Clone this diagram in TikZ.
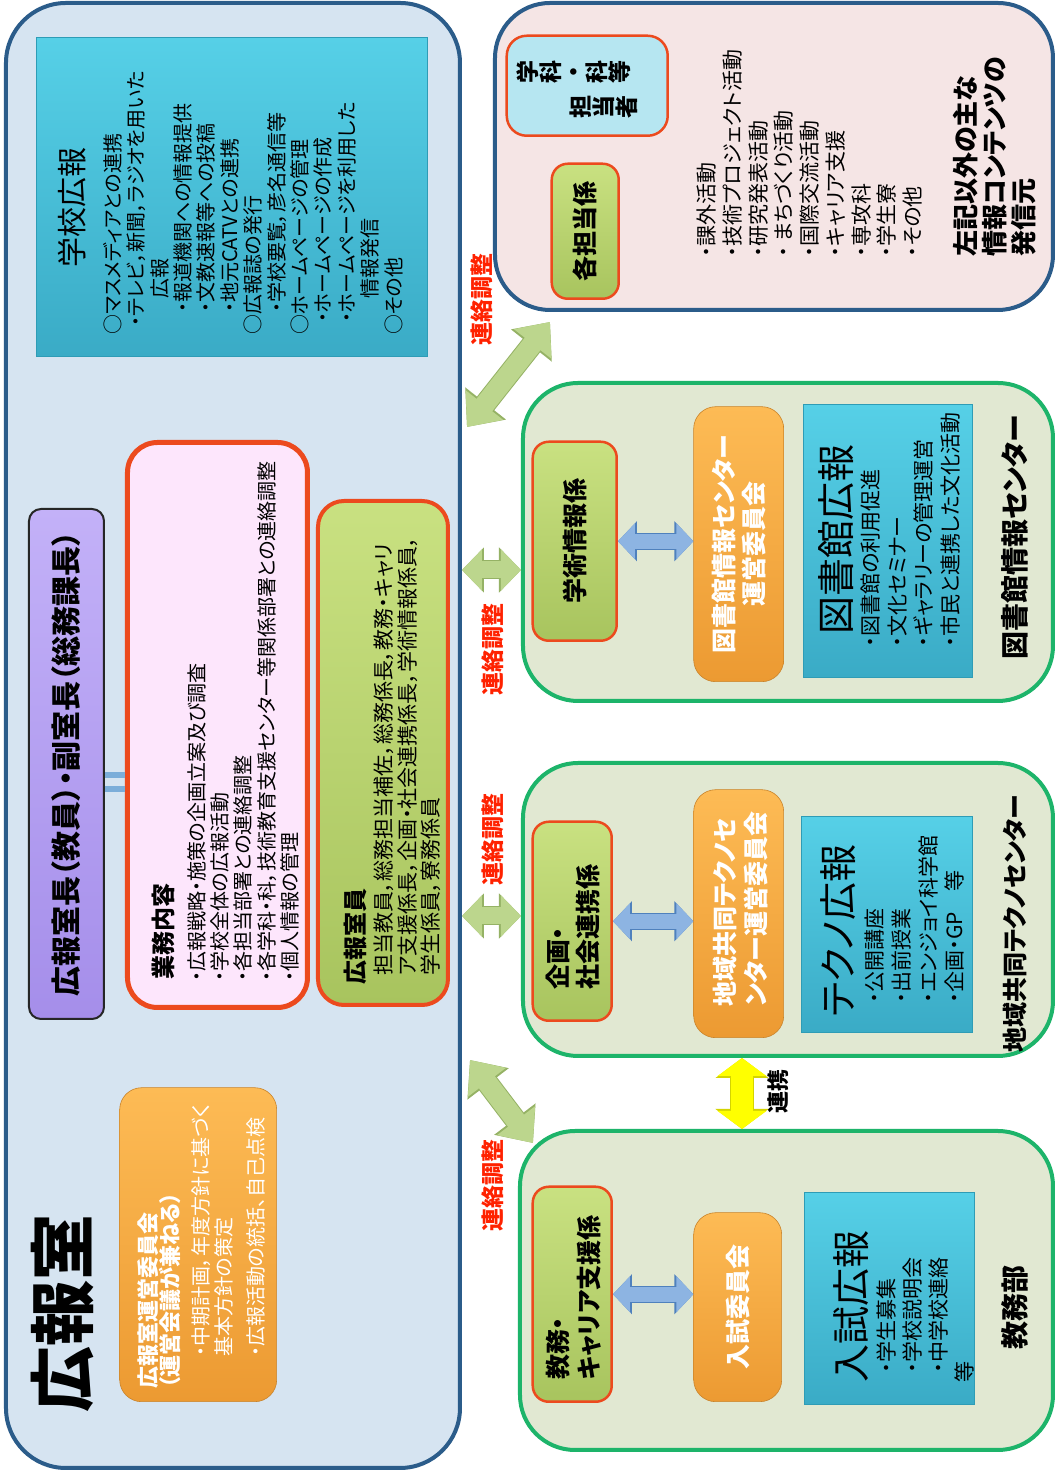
\documentclass[tikz,border=0pt]{standalone}
\usepackage{fontspec}
\setmainfont{Noto Sans CJK JP}[RawFeature=+palt]
\usetikzlibrary{arrows.meta,calc}
\definecolor{bgblue}{HTML}{D6E4F1}
\definecolor{edgeblue}{HTML}{2B5C8A}
\definecolor{bgpink}{HTML}{F5E5E5}
\definecolor{bggreen}{HTML}{E1E8D2}
\definecolor{edgegreen}{HTML}{1DB46A}
\definecolor{cyantop}{HTML}{56D0E7}
\definecolor{cyanbot}{HTML}{3AABC6}
\definecolor{cyanedge}{HTML}{2E9CB6}
\definecolor{orgtop}{HTML}{FDBB55}
\definecolor{orgbot}{HTML}{EC9A32}
\definecolor{grtop}{HTML}{C9E181}
\definecolor{grbot}{HTML}{A8C45E}
\definecolor{rededge}{HTML}{EC4A1E}
\definecolor{pinkfill}{HTML}{FDE6FC}
\definecolor{purtop}{HTML}{C3B1F8}
\definecolor{purbot}{HTML}{A58EEA}
\definecolor{lcyan}{HTML}{B6E6F1}
\definecolor{redtxt}{HTML}{FF2200}
\definecolor{lgfill}{HTML}{BCD68D}
\definecolor{lgedge}{HTML}{95B265}
\definecolor{blfill}{HTML}{8DB4E2}
\definecolor{bledge}{HTML}{4F81BD}
\definecolor{yfill}{HTML}{FFFF00}
\definecolor{yedge}{HTML}{D4D400}
\definecolor{barblue}{HTML}{7BADD9}
\newcommand{\fsz}[2]{\fontsize{#1}{#2}\selectfont}
\begin{document}
\begin{tikzpicture}[x=1pt,y=1pt]
\begin{scope}[rotate=90,transform shape]
\tikzset{
  bx/.style={rectangle, inner sep=0pt, anchor=south west},
  bigbox/.style={bx, draw=edgeblue, line width=4pt, rounded corners=60pt},
  grpbox/.style={bx, draw=edgegreen, fill=bggreen, line width=4pt, rounded corners=55pt},
  cyanbox/.style={bx, top color=cyantop, bottom color=cyanbot, draw=cyanedge, line width=1.2pt},
  orgbox/.style={bx, top color=orgtop, bottom color=orgbot, draw=orgbot!85!black, line width=0.6pt, rounded corners=22pt},
  grbox/.style={bx, top color=grtop, bottom color=grbot, draw=rededge, line width=2.5pt, rounded corners=16pt},
  txt/.style={inner sep=0pt, align=left},
  redlbl/.style={inner sep=0pt, text=redtxt, font=\bfseries\fsz{23}{23}},
  lgarr/.style={draw=lgfill, line width=17pt, {Triangle[width=40pt,length=20pt]}-{Triangle[width=40pt,length=20pt]},
    preaction={draw=lgedge, line width=19pt, {Triangle[width=44pt,length=22pt]}-{Triangle[width=44pt,length=22pt]}}},
  lgdiag/.style={draw=lgfill, line width=20pt, {Triangle[width=46pt,length=28pt]}-{Triangle[width=46pt,length=28pt]},
    preaction={draw=lgedge, line width=22pt, {Triangle[width=50pt,length=30pt]}-{Triangle[width=50pt,length=30pt]}}},
  blarr/.style={draw=blfill, line width=15pt, {Triangle[width=35pt,length=17pt]}-{Triangle[width=35pt,length=17pt]},
    preaction={draw=bledge, line width=17pt, {Triangle[width=39pt,length=19pt]}-{Triangle[width=39pt,length=19pt]}}},
  yarr/.style={draw=yfill, line width=22pt, {Triangle[width=48pt,length=18pt]}-{Triangle[width=48pt,length=18pt]},
    preaction={draw=yedge, line width=24pt, {Triangle[width=52pt,length=20pt]}-{Triangle[width=52pt,length=20pt]}}},
  barline/.style={draw=barblue, line width=6pt}
}
\fill[white] (0,0) rectangle (1473,1058);
\useasboundingbox (0,0) rectangle (1473,1058);

% ---- group frames
\node[bigbox, fill=bgblue, minimum width=1465pt, minimum height=454pt] (koho) at (3,596) {};
\node[bigbox, fill=bgpink, rounded corners=55pt, minimum width=307pt, minimum height=558pt] (src) at (1161,3) {};
\node[grpbox, minimum width=318pt, minimum height=530pt] (lib) at (770,3) {};
\node[grpbox, minimum width=293pt, minimum height=530pt] (tech) at (415,3) {};
\node[grpbox, minimum width=319pt, minimum height=533pt] (edu) at (21,3) {};

% ---- inside koho
\node[cyanbox, minimum width=319pt, minimum height=391pt] (skb) at (1116,630) {};
\node[txt, font=\fsz{30}{30}] (skbT) at (1265,986) {学校広報};
\node[txt, anchor=north west, font=\fsz{20}{23.4}] (skbB) at (1138,955) {%
○マスメディアとの連携\\
\hspace*{8pt}・テレビ，新聞，ラジオを用いた\\
\hspace*{36pt}広報\\
\hspace*{22pt}・報道機関への情報提供\\
\hspace*{22pt}・文教速報等への投稿\\
\hspace*{22pt}・地元CATVとの連携\\
○広報誌の発行\\
\hspace*{22pt}・学校要覧，彦名通信等\\
○ホームページの管理\\
\hspace*{12pt}・ホームページの作成\\
\hspace*{12pt}・ホームページを利用した\\
\hspace*{36pt}情報発信\\
○その他};

\node[bx, top color=purtop, bottom color=purbot, draw=black!85, line width=2pt, rounded corners=12pt,
  minimum width=510pt, minimum height=75pt, font=\bfseries\fsz{30}{30}] (pur) at (453,953) {広報室長（教員）・副室長（総務課長）};

\node[bx, fill=pinkfill, draw=rededge, line width=5pt, rounded corners=30pt,
  minimum width=565pt, minimum height=180pt] (gyomu) at (463,748) {};
\coordinate (b1) at (684,0);
\coordinate (b2) at (698,0);
\draw[barline] (pur.south -| b1) -- (gyomu.north -| b1);
\draw[barline] (pur.south -| b2) -- (gyomu.north -| b2);
\node[txt, anchor=west, font=\bfseries\fsz{24}{24}] (gyT) at (493,895) {業務内容};
\node[txt, anchor=north west, font=\fsz{20}{23.4}] (gyB) at (491,871) {%
・広報戦略・施策の企画立案及び調査\\
・学校全体の広報活動\\
・各担当部署との連絡調整\\
・各学科・科，技術教育支援センター等関係部署との連絡調整\\
・個人情報の管理};

\node[grbox, line width=4pt, rounded corners=26pt, minimum width=504pt, minimum height=130pt] (inin) at (466,608) {};
\node[txt, anchor=west, font=\bfseries\fsz{24}{24}] (inT) at (488,703) {広報室員};
\node[txt, anchor=north west, font=\fsz{21}{23.5}] (inB) at (497,684) {%
担当教員，総務担当補佐，総務係長，教務・キャリ\\
ア支援係長，企画・社会連携係長，学術情報係員，\\
学生係員，寮務係員};

\node[orgbox, minimum width=314pt, minimum height=157pt] (unei) at (71,781) {};
\node[txt, anchor=north west, text=white, font=\bfseries\fsz{22}{22.5}] (uneiT) at (84,921) {広報室運営委員会\\（運営会議が兼ねる）};
\node[txt, anchor=north west, text=white, font=\fsz{20}{23}] (uneiB) at (116,867) {%
・中期計画，年度方針に基づく\\
基本方針の策定\\[9pt]
・広報活動の統括、自己点検};

\node[txt, anchor=west, font=\bfseries\fsz{66}{66}] (kohoT) at (60,996) {広報室};

% ---- source box (top right)
\node[bx, fill=lcyan, draw=rededge, line width=2.5pt, rounded corners=20pt,
  minimum width=100pt, minimum height=161pt] (gakka) at (1336,389) {};
\node[txt, align=center, anchor=north, font=\bfseries\fsz{23}{23}] (gk1) at (1401,541) {学\\科\\・\\科\\等};
\node[txt, align=center, anchor=north, font=\bfseries\fsz{23}{23}] (gk2) at (1366,488) {担\\当\\者};
\node[grbox, minimum width=135pt, minimum height=67pt, font=\bfseries\fsz{25}{25}] (kaku) at (1173,438) {各担当係};
\node[txt, anchor=north west, font=\fsz{21}{25.7}] (srcL) at (1216,361) {%
・課外活動\\
・技術プロジェクト活動\\
・研究発表活動\\
・\hspace{4pt}まちづくり活動\\
・国際交流活動\\
・キャリア支援\\
・専攻科\\
・学生寮\\
・その他};
\node[txt, anchor=north west, font=\bfseries\fsz{26}{29}] (srcT) at (1216,105) {%
左記以外の主な\\
情報コンテンツの\\
発信元};

% ---- library center
\node[grbox, minimum width=199pt, minimum height=84pt, font=\bfseries\fsz{25}{25}] (gj) at (831,440) {学術情報係};
\node[orgbox, minimum width=275pt, minimum height=90pt, align=center, text=white, font=\bfseries\fsz{25}{30}] (lo) at (791,274) {図書館情報センター\\運営委員会};
\node[cyanbox, minimum width=273pt, minimum height=169pt] (lc) at (795,85) {};
\node[txt, anchor=west, font=\fsz{38}{38}] (lcT) at (838,222) {図書館広報};
\node[txt, anchor=north west, font=\fsz{21}{26.5}] (lcB) at (826,197) {%
・図書館の利用促進\\
・文化セミナー\\
・ギャラリーの管理運営\\
・市民と連携した文化活動};
\node[txt, anchor=west, font=\bfseries\fsz{28}{28}] (libL) at (813,43) {図書館情報センター};

% ---- techno center
\node[grbox, minimum width=199pt, minimum height=79pt] (kk) at (451,445) {};
\node[txt, anchor=north west, font=\bfseries\fsz{25}{30}] (kkT) at (483,512) {企画・\\社会連携係};
\node[orgbox, minimum width=248pt, minimum height=90pt] (to) at (435,274) {};
\node[txt, anchor=north west, text=white, font=\bfseries\fsz{25}{31}] (toT) at (466,345) {地域共同テクノセ\\ンター運営委員会};
\node[cyanbox, minimum width=216pt, minimum height=171pt] (tc) at (440,85) {};
\node[txt, anchor=west, font=\fsz{38}{38}] (tcT) at (456,220) {テクノ広報};
\node[txt, anchor=north west, font=\fsz{21}{26.7}] (tcB) at (470,193) {%
・公開講座\\
・出前授業\\
・エンジョイ科学館\\
・企画・GP　等};
\node[txt, anchor=west, font=\bfseries\fsz{25}{25}] (tecL) at (420,43) {地域共同テクノセンター};

% ---- education
\node[grbox, minimum width=215pt, minimum height=79pt] (km) at (70,445) {};
\node[txt, anchor=north west, font=\bfseries\fsz{25}{31}] (kmT) at (93,512) {教務・\\キャリア支援係};
\node[orgbox, minimum width=189pt, minimum height=88pt, text=white, font=\bfseries\fsz{25}{25}] (no) at (71,276) {入試委員会};
\node[cyanbox, minimum width=212pt, minimum height=170pt] (nc) at (68,83) {};
\node[txt, anchor=west, font=\fsz{38}{38}] (ncT) at (90,207) {入試広報};
\node[txt, anchor=north west, font=\fsz{21}{26}] (ncB) at (100,181) {%
・学生募集\\
・学校説明会\\
・中学校連絡\\
\hspace*{-10pt}等};
\node[txt, anchor=west, font=\bfseries\fsz{28}{28}] (eduL) at (123,43) {教務部};

% ---- connectors
\coordinate (d1a) at (1046,591);
\coordinate (d1b) at (1151,508);
\draw[lgdiag] (d1a) -- (d1b);
\coordinate (a2) at (903,0);
\draw[lgarr] (koho.south -| a2) -- (lib.north -| a2);
\coordinate (a3) at (557,0);
\draw[lgarr] (koho.south -| a3) -- (tech.north -| a3);
\coordinate (d4a) at (413,588);
\coordinate (d4b) at (330,525);
\draw[lgdiag] (d4a) -- (d4b);
\coordinate (y5) at (0,316);
\draw[yarr] (edu.east |- y5) -- (tech.west |- y5);

\draw[blarr] (gj.south) -- (gj.south |- lo.north);
\draw[blarr] (kk.south) -- (kk.south |- to.north);
\draw[blarr] (km.south) -- (km.south |- no.north);

\node[redlbl] (r1) at (1173,576) {連絡調整};
\node[redlbl] (r2) at (823,565) {連絡調整};
\node[redlbl] (r3) at (633,565) {連絡調整};
\node[redlbl] (r4) at (287,565) {連絡調整};
\node[inner sep=0pt, font=\bfseries\fsz{22}{22}] (renkei) at (381,280) {連携};
\end{scope}
\end{tikzpicture}
\end{document}
